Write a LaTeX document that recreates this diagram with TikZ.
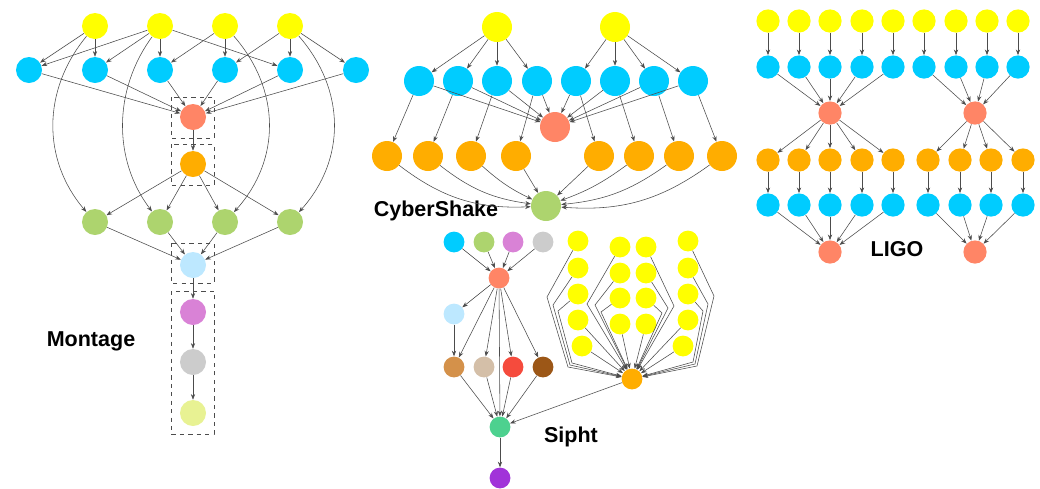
\documentclass[tikz,border=0pt]{standalone}
\usepackage{fontspec}
\setmainfont{Liberation Sans}
\usetikzlibrary{arrows.meta}

\definecolor{cyel}{HTML}{FFFF00}
\definecolor{cblu}{HTML}{00CCFF}
\definecolor{csal}{HTML}{FF8566}
\definecolor{cora}{HTML}{FFAD00}
\definecolor{cgrn}{HTML}{ADD46E}
\definecolor{clbl}{HTML}{BDE8FF}
\definecolor{corc}{HTML}{D982D6}
\definecolor{cgry}{HTML}{CCCCCC}
\definecolor{clyl}{HTML}{E8F293}
\definecolor{cper}{HTML}{D4914A}
\definecolor{ctan}{HTML}{D4BFA8}
\definecolor{cred}{HTML}{F54B3D}
\definecolor{cbrn}{HTML}{9C5717}
\definecolor{csea}{HTML}{4DD18F}
\definecolor{cpur}{HTML}{A133D9}

\tikzset{
    task/.style={circle, inner sep=0pt, minimum size=0.65cm},
    ctask/.style={task, minimum size=0.75cm},
    ltask/.style={task, minimum size=0.58cm},
    stask/.style={task, minimum size=0.52cm},
    dep/.style={-{Stealth[length=4pt, width=3pt]}, draw=black!70, line width=0.4pt},
    group/.style={draw=black!70, dashed, line width=0.5pt},
    title/.style={font=\fontsize{15.3}{18}\selectfont\bfseries}
}

\begin{document}
\begin{tikzpicture}[x=0.025cm, y=-0.025cm]
    \useasboundingbox (0, 0) rectangle (1040, 488);

    % Montage
    \draw[group] (171, 97) rectangle (214, 138);
    \draw[group] (171, 144) rectangle (214, 185);
    \draw[group] (171, 243) rectangle (214, 283);
    \draw[group] (171, 291) rectangle (214, 434);
    \node[task, fill=cyel] (m-y1) at (95, 26) {};
    \node[task, fill=cyel] (m-y2) at (160, 26) {};
    \node[task, fill=cyel] (m-y3) at (225, 26) {};
    \node[task, fill=cyel] (m-y4) at (290, 26) {};
    \node[task, fill=cblu] (m-b1) at (29, 70) {};
    \node[task, fill=cblu] (m-b2) at (95, 70) {};
    \node[task, fill=cblu] (m-b3) at (160, 70) {};
    \node[task, fill=cblu] (m-b4) at (225, 70) {};
    \node[task, fill=cblu] (m-b5) at (290, 70) {};
    \node[task, fill=cblu] (m-b6) at (356, 70) {};
    \node[task, fill=csal] (m-s) at (193, 117) {};
    \node[task, fill=cora] (m-o) at (193, 164) {};
    \node[task, fill=cgrn] (m-g1) at (95, 222) {};
    \node[task, fill=cgrn] (m-g2) at (160, 222) {};
    \node[task, fill=cgrn] (m-g3) at (225, 222) {};
    \node[task, fill=cgrn] (m-g4) at (290, 222) {};
    \node[task, fill=clbl] (m-lb) at (193, 265) {};
    \node[task, fill=corc] (m-pk) at (193, 312) {};
    \node[task, fill=cgry] (m-gy) at (193, 362) {};
    \node[task, fill=clyl] (m-ly) at (193, 413) {};
    \node[title] (m-title) at (91, 341) {Montage};

    \draw[dep] (m-y1) -- (m-b1);
    \draw[dep] (m-y1) -- (m-b2);
    \draw[dep] (m-y2) -- (m-b1);
    \draw[dep] (m-y2) -- (m-b2);
    \draw[dep] (m-y2) -- (m-b3);
    \draw[dep] (m-y2) -- (m-b5);
    \draw[dep] (m-y3) -- (m-b3);
    \draw[dep] (m-y3) -- (m-b4);
    \draw[dep] (m-y4) -- (m-b4);
    \draw[dep] (m-y4) -- (m-b5);
    \draw[dep] (m-y4) -- (m-b6);
    \draw[dep] (m-y1) .. controls (42, 90) and (42, 160) .. (m-g1);
    \draw[dep] (m-y2) .. controls (113, 90) and (113, 160) .. (m-g2);
    \draw[dep] (m-y3) .. controls (281, 90) and (281, 160) .. (m-g3);
    \draw[dep] (m-y4) .. controls (346, 90) and (346, 160) .. (m-g4);
    \foreach \i in {1,...,6}
        \draw[dep] (m-b\i) -- (m-s);
    \draw[dep] (m-s) -- (m-o);
    \foreach \i in {1,...,4} {
        \draw[dep] (m-o) -- (m-g\i);
        \draw[dep] (m-g\i) -- (m-lb);
    }
    \draw[dep] (m-lb) -- (m-pk);
    \draw[dep] (m-pk) -- (m-gy);
    \draw[dep] (m-gy) -- (m-ly);

    % CyberShake
    \node[ctask, fill=cyel] (c-y1) at (497, 27) {};
    \node[ctask, fill=cyel] (c-y2) at (615, 27) {};
    \node[ctask, fill=cblu] (c-b1) at (419, 81) {};
    \node[ctask, fill=cblu] (c-b2) at (458, 81) {};
    \node[ctask, fill=cblu] (c-b3) at (497, 81) {};
    \node[ctask, fill=cblu] (c-b4) at (537, 81) {};
    \node[ctask, fill=cblu] (c-b5) at (576, 81) {};
    \node[ctask, fill=cblu] (c-b6) at (615, 81) {};
    \node[ctask, fill=cblu] (c-b7) at (654, 81) {};
    \node[ctask, fill=cblu] (c-b8) at (693, 81) {};
    \node[ctask, fill=csal] (c-s) at (555, 127) {};
    \node[ctask, fill=cora] (c-o1) at (387, 156) {};
    \node[ctask, fill=cora] (c-o2) at (428, 156) {};
    \node[ctask, fill=cora] (c-o3) at (471, 156) {};
    \node[ctask, fill=cora] (c-o4) at (516, 156) {};
    \node[ctask, fill=cora] (c-o5) at (599, 156) {};
    \node[ctask, fill=cora] (c-o6) at (639, 156) {};
    \node[ctask, fill=cora] (c-o7) at (679, 156) {};
    \node[ctask, fill=cora] (c-o8) at (722, 156) {};
    \node[ctask, fill=cgrn] (c-g) at (546, 206) {};
    \node[title] (c-title) at (436, 211) {CyberShake};

    \foreach \i in {1,...,4}
        \draw[dep] (c-y1) -- (c-b\i);
    \foreach \i in {5,...,8}
        \draw[dep] (c-y2) -- (c-b\i);
    \foreach \i in {1,...,8} {
        \draw[dep] (c-b\i) -- (c-s);
        \draw[dep] (c-b\i) -- (c-o\i);
    }
    \draw[dep] (c-o1) to[bend right=20] (c-g);
    \draw[dep] (c-o2) to[bend right=15] (c-g);
    \draw[dep] (c-o3) to[bend right=8] (c-g);
    \draw[dep] (c-o4) -- (c-g);
    \draw[dep] (c-o5) -- (c-g);
    \draw[dep] (c-o6) to[bend left=8] (c-g);
    \draw[dep] (c-o7) to[bend left=15] (c-g);
    \draw[dep] (c-o8) to[bend left=20] (c-g);

    % LIGO
    \node[ltask, fill=cyel] (l-y1) at (768, 21) {};
    \node[ltask, fill=cyel] (l-y2) at (799, 21) {};
    \node[ltask, fill=cyel] (l-y3) at (830, 21) {};
    \node[ltask, fill=cyel] (l-y4) at (862, 21) {};
    \node[ltask, fill=cyel] (l-y5) at (893, 21) {};
    \node[ltask, fill=cyel] (l-y6) at (924, 21) {};
    \node[ltask, fill=cyel] (l-y7) at (956, 21) {};
    \node[ltask, fill=cyel] (l-y8) at (987, 21) {};
    \node[ltask, fill=cyel] (l-y9) at (1018, 21) {};
    \node[ltask, fill=cblu] (l-b1) at (768, 67) {};
    \node[ltask, fill=cblu] (l-b2) at (799, 67) {};
    \node[ltask, fill=cblu] (l-b3) at (830, 67) {};
    \node[ltask, fill=cblu] (l-b4) at (862, 67) {};
    \node[ltask, fill=cblu] (l-b5) at (893, 67) {};
    \node[ltask, fill=cblu] (l-b6) at (924, 67) {};
    \node[ltask, fill=cblu] (l-b7) at (956, 67) {};
    \node[ltask, fill=cblu] (l-b8) at (987, 67) {};
    \node[ltask, fill=cblu] (l-b9) at (1018, 67) {};
    \node[ltask, fill=csal] (l-s1) at (830, 113) {};
    \node[ltask, fill=csal] (l-s2) at (975, 113) {};
    \node[ltask, fill=cora] (l-o1) at (768, 160) {};
    \node[ltask, fill=cora] (l-o2) at (799, 160) {};
    \node[ltask, fill=cora] (l-o3) at (830, 160) {};
    \node[ltask, fill=cora] (l-o4) at (862, 160) {};
    \node[ltask, fill=cora] (l-o5) at (893, 160) {};
    \node[ltask, fill=cora] (l-o6) at (928, 160) {};
    \node[ltask, fill=cora] (l-o7) at (960, 160) {};
    \node[ltask, fill=cora] (l-o8) at (991, 160) {};
    \node[ltask, fill=cora] (l-o9) at (1023, 160) {};
    \node[ltask, fill=cblu] (l-c1) at (768, 205) {};
    \node[ltask, fill=cblu] (l-c2) at (799, 205) {};
    \node[ltask, fill=cblu] (l-c3) at (830, 205) {};
    \node[ltask, fill=cblu] (l-c4) at (862, 205) {};
    \node[ltask, fill=cblu] (l-c5) at (893, 205) {};
    \node[ltask, fill=cblu] (l-c6) at (928, 205) {};
    \node[ltask, fill=cblu] (l-c7) at (960, 205) {};
    \node[ltask, fill=cblu] (l-c8) at (991, 205) {};
    \node[ltask, fill=cblu] (l-c9) at (1023, 205) {};
    \node[ltask, fill=csal] (l-e1) at (830, 252) {};
    \node[ltask, fill=csal] (l-e2) at (975, 252) {};
    \node[title] (l-title) at (897, 249) {LIGO};

    \foreach \i in {1,...,9} {
        \draw[dep] (l-y\i) -- (l-b\i);
        \draw[dep] (l-o\i) -- (l-c\i);
    }
    \foreach \i in {1,...,5} {
        \draw[dep] (l-b\i) -- (l-s1);
        \draw[dep] (l-s1) -- (l-o\i);
        \draw[dep] (l-c\i) -- (l-e1);
    }
    \foreach \i in {6,...,9} {
        \draw[dep] (l-b\i) -- (l-s2);
        \draw[dep] (l-s2) -- (l-o\i);
        \draw[dep] (l-c\i) -- (l-e2);
    }

    % Sipht
    \node[stask, fill=cblu] (s-t1) at (454, 242) {};
    \node[stask, fill=cgrn] (s-t2) at (484, 242) {};
    \node[stask, fill=corc] (s-t3) at (513, 242) {};
    \node[stask, fill=cgry] (s-t4) at (543, 242) {};
    \node[stask, fill=csal] (s-s) at (499, 278) {};
    \node[stask, fill=clbl] (s-lb) at (454, 314) {};
    \node[stask, fill=cper] (s-r1) at (454, 367) {};
    \node[stask, fill=ctan] (s-r2) at (484, 367) {};
    \node[stask, fill=cred] (s-r3) at (513, 367) {};
    \node[stask, fill=cbrn] (s-r4) at (543, 367) {};
    \node[stask, fill=csea] (s-g) at (500, 427) {};
    \node[stask, fill=cpur] (s-p) at (500, 478) {};
    \node[stask, fill=cora] (s-o) at (632, 379) {};
    \node[stask, fill=cyel] (s-a1) at (578, 241) {};
    \node[stask, fill=cyel] (s-a2) at (578, 268) {};
    \node[stask, fill=cyel] (s-a3) at (578, 294) {};
    \node[stask, fill=cyel] (s-a4) at (578, 320) {};
    \node[stask, fill=cyel] (s-a5) at (582, 346) {};
    \node[stask, fill=cyel] (s-b1) at (620, 247) {};
    \node[stask, fill=cyel] (s-b2) at (620, 273) {};
    \node[stask, fill=cyel] (s-b3) at (620, 298) {};
    \node[stask, fill=cyel] (s-b4) at (620, 324) {};
    \node[stask, fill=cyel] (s-c1) at (646, 247) {};
    \node[stask, fill=cyel] (s-c2) at (646, 273) {};
    \node[stask, fill=cyel] (s-c3) at (646, 298) {};
    \node[stask, fill=cyel] (s-c4) at (646, 324) {};
    \node[stask, fill=cyel] (s-d1) at (688, 241) {};
    \node[stask, fill=cyel] (s-d2) at (688, 268) {};
    \node[stask, fill=cyel] (s-d3) at (688, 294) {};
    \node[stask, fill=cyel] (s-d4) at (688, 320) {};
    \node[stask, fill=cyel] (s-d5) at (683, 346) {};
    \node[title] (s-title) at (571, 437) {Sipht};

    \foreach \i in {1,...,4}
        \draw[dep] (s-t\i) -- (s-s);
    \draw[dep] (s-s) -- (s-lb);
    \draw[dep] (s-lb) -- (s-r1);
    \foreach \i in {1,...,4} {
        \draw[dep] (s-s) -- (s-r\i);
        \draw[dep] (s-r\i) -- (s-g);
    }
    \draw[dep] (s-s) -- (s-g);
    \draw[dep] (s-o) -- (s-g);
    \draw[dep] (s-g) -- (s-p);
    % yellow jobs into the orange one
    \draw[dep] (s-a1) -- (547, 297) -- (568, 367) -- (s-o);
    \draw[dep] (s-a2) -- (553, 305) -- (570, 365) -- (s-o);
    \draw[dep] (s-a3) -- (558, 311) -- (572, 363) -- (s-o);
    \draw[dep] (s-a4) -- (s-o);
    \draw[dep] (s-a5) -- (s-o);
    \draw[dep] (s-b1) -- (587, 304) -- (s-o);
    \draw[dep] (s-b2) -- (595, 305) -- (s-o);
    \draw[dep] (s-b3) -- (601, 312) -- (s-o);
    \draw[dep] (s-b4) -- (s-o);
    \draw[dep] (s-c1) -- (674, 306) -- (s-o);
    \draw[dep] (s-c2) -- (668, 308) -- (s-o);
    \draw[dep] (s-c3) -- (662, 313) -- (s-o);
    \draw[dep] (s-c4) -- (s-o);
    \draw[dep] (s-d1) -- (714, 296) -- (697, 366) -- (s-o);
    \draw[dep] (s-d2) -- (708, 304) -- (695, 364) -- (s-o);
    \draw[dep] (s-d3) -- (703, 311) -- (693, 362) -- (s-o);
    \draw[dep] (s-d4) -- (s-o);
    \draw[dep] (s-d5) -- (s-o);
\end{tikzpicture}
\end{document}
